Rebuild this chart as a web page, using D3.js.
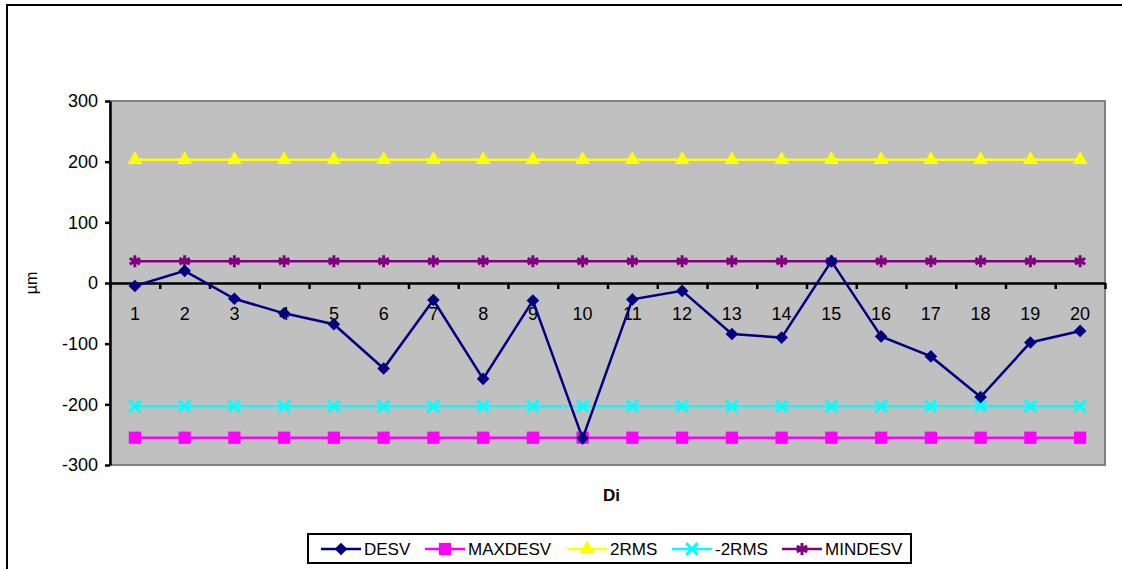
<!DOCTYPE html>
<html>
<head>
<meta charset="utf-8">
<script src="https://cdn.jsdelivr.net/npm/d3@7"></script>
<style>
  html, body { margin: 0; background: #fff; overflow: hidden; }
  svg { display: block; }
  svg text { font-family: "Liberation Sans", Arial, sans-serif; }
</style>
</head>
<body>
<svg id="chart" width="1122" height="569"></svg>
<script>
const categories = d3.range(1, 21).map(String);
const desv = [-5, 20, -26, -50, -68, -141, -28, -158, -29, -256, -27, -13, -84, -90, 36, -88, -121, -188, -98, -79];
const maxdesv = categories.map(() => -255);
const rms2 = categories.map(() => 203);
const rms2neg = categories.map(() => -203);
const mindesv = categories.map(() => 36);
const yTicks = [-300, -200, -100, 0, 100, 200, 300];

const series = [
  { name: "DESV", values: desv, color: "#000080", symbol: d3.symbolSquare, size: 80, rotate: 45, fill: true },
  { name: "MAXDESV", values: maxdesv, color: "#FF00FF", symbol: d3.symbolSquare, size: 150, rotate: 0, fill: true },
  { name: "2RMS", values: rms2, color: "#FFFF00", symbol: d3.symbolTriangle, size: 95, rotate: 0, fill: true },
  { name: "-2RMS", values: rms2neg, color: "#00FFFF", symbol: d3.symbolTimes, size: 90, rotate: 0, fill: false },
  { name: "MINDESV", values: mindesv, color: "#800080", symbol: d3.symbolAsterisk, size: 100, rotate: 0, fill: false },
];

const svg = d3.select("#chart");
const plot = { left: 110, right: 1105, top: 101, bottom: 465 };

// outer chart border: left and top edges only
svg.append("line").attr("x1", 7).attr("x2", 7).attr("y1", 4).attr("y2", 569)
  .attr("stroke", "#000").attr("stroke-width", 2);
svg.append("line").attr("x1", 6).attr("x2", 1122).attr("y1", 5).attr("y2", 5)
  .attr("stroke", "#000").attr("stroke-width", 2);

const x = d3.scaleBand().domain(categories).range([plot.left, plot.right]);
const xEdge = d3.scaleLinear().domain([0, 20]).range([plot.left, plot.right]);
const y = d3.scaleLinear().domain([-300, 300]).range([plot.bottom, plot.top]);
const cx = c => x(c) + x.bandwidth() / 2;

// plot area
svg.append("rect")
  .attr("x", plot.left).attr("y", plot.top)
  .attr("width", plot.right - plot.left).attr("height", plot.bottom - plot.top)
  .attr("fill", "#C0C0C0").attr("stroke", "#808080").attr("stroke-width", 2);

// y axis
const yAxis = svg.append("g")
  .attr("transform", `translate(${plot.left},0)`)
  .call(d3.axisLeft(y).tickValues(yTicks).tickSize(5).tickPadding(7).tickSizeOuter(0)
    .tickFormat(d => String(d)));
yAxis.select(".domain").attr("stroke", "#000").attr("stroke-width", 2.5);
yAxis.selectAll(".tick line").attr("stroke", "#000").attr("stroke-width", 2.5);
yAxis.selectAll("text").attr("font-size", 18).attr("fill", "#000");

// x axis at zero
const xAxis = svg.append("g")
  .attr("transform", `translate(0,${y(0)})`)
  .call(d3.axisBottom(xEdge).tickValues(d3.range(21)).tickSize(6).tickFormat("").tickSizeOuter(0));
xAxis.select(".domain").attr("stroke", "#000").attr("stroke-width", 2.5);
xAxis.selectAll(".tick line").attr("stroke", "#000").attr("stroke-width", 2.5);

const xLabels = svg.append("g")
  .attr("transform", `translate(0,${y(0)})`)
  .call(d3.axisBottom(x).tickSize(0).tickPadding(24));
xLabels.select(".domain").remove();
xLabels.selectAll("text").attr("font-size", 18).attr("fill", "#000");

// series
const marker = (sel, s) => sel
  .attr("d", d3.symbol(s.symbol, s.size))
  .attr("fill", s.fill ? s.color : "none")
  .attr("stroke", s.color)
  .attr("stroke-width", s.fill ? 0 : 3);

const line = d3.line().x((d, i) => cx(categories[i])).y(d => y(d));
const drawOrder = [series[4], series[3], series[2], series[1], series[0]];
drawOrder.forEach(s => {
  svg.append("path")
    .datum(s.values)
    .attr("d", line)
    .attr("fill", "none")
    .attr("stroke", s.color)
    .attr("stroke-width", 2.5);
  svg.append("g").selectAll("path")
    .data(s.values)
    .join("path")
    .attr("transform", (d, i) => `translate(${cx(categories[i])},${y(d)}) rotate(${s.rotate})`)
    .call(marker, s);
});

// axis titles
svg.append("text")
  .attr("x", (plot.left + plot.right) / 2 + 4).attr("y", 501)
  .attr("text-anchor", "middle").attr("font-size", 17).attr("font-weight", "bold")
  .text("Di");
svg.append("text")
  .attr("transform", `translate(37,${y(0)}) rotate(-90)`)
  .attr("text-anchor", "middle").attr("font-size", 16)
  .text("µm");

// legend
const legend = svg.append("g");
legend.append("rect")
  .attr("x", 308).attr("y", 534).attr("width", 603).attr("height", 29)
  .attr("fill", "#fff").attr("stroke", "#000").attr("stroke-width", 2);
const legendX = [321, 425, 567, 672, 782];
series.forEach((s, i) => {
  const g = legend.append("g").attr("transform", `translate(${legendX[i]},549)`);
  g.append("line").attr("x1", 0).attr("x2", 40).attr("stroke", s.color).attr("stroke-width", 2.5);
  g.append("path")
    .attr("transform", `translate(20,0) rotate(${s.rotate})`)
    .call(marker, s);
  g.append("text").attr("x", 43).attr("y", 6).attr("font-size", 17).text(s.name);
});
</script>
</body>
</html>
